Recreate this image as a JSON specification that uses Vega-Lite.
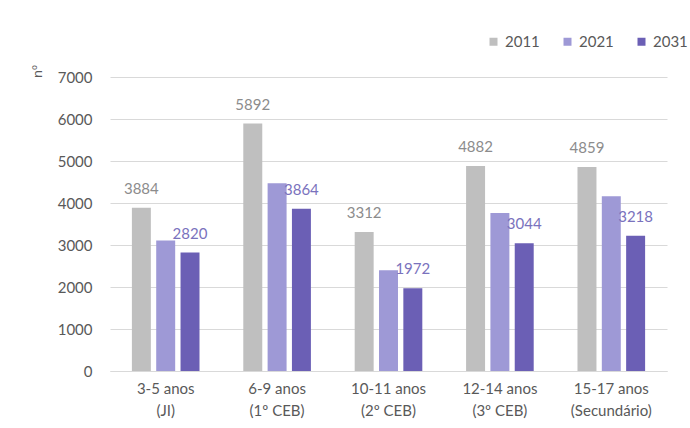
{
  "$schema": "https://vega.github.io/schema/vega-lite/v6.json",
  "autosize": {"type": "none"},
  "width": 557,
  "height": 294,
  "padding": {"left": 110, "top": 77, "right": 23, "bottom": 57},
  "background": "white",
  "config": {
    "font": "Lato",
    "view": {"stroke": null},
    "axis": {"labelFont": "Lato", "titleFont": "Lato", "labelColor": "#595959", "titleColor": "#595959", "labelFontSize": 15}
  },
  "data": {
    "values": [
      {"group": "3-5 anos (JI)", "year": "2011", "value": 3884},
      {"group": "3-5 anos (JI)", "year": "2021", "value": 3110},
      {"group": "3-5 anos (JI)", "year": "2031", "value": 2820},
      {"group": "6-9 anos (1º CEB)", "year": "2011", "value": 5892},
      {"group": "6-9 anos (1º CEB)", "year": "2021", "value": 4470},
      {"group": "6-9 anos (1º CEB)", "year": "2031", "value": 3864},
      {"group": "10-11 anos (2º CEB)", "year": "2011", "value": 3312},
      {"group": "10-11 anos (2º CEB)", "year": "2021", "value": 2400},
      {"group": "10-11 anos (2º CEB)", "year": "2031", "value": 1972},
      {"group": "12-14 anos (3º CEB)", "year": "2011", "value": 4882},
      {"group": "12-14 anos (3º CEB)", "year": "2021", "value": 3760},
      {"group": "12-14 anos (3º CEB)", "year": "2031", "value": 3044},
      {"group": "15-17 anos (Secundário)", "year": "2011", "value": 4859},
      {"group": "15-17 anos (Secundário)", "year": "2021", "value": 4160},
      {"group": "15-17 anos (Secundário)", "year": "2031", "value": 3218}
    ]
  },
  "encoding": {
    "x": {
      "field": "group", "type": "nominal", "sort": null,
      "scale": {"paddingInner": 0, "paddingOuter": 0},
      "axis": {
        "title": null, "labelAngle": 0, "ticks": false, "domainColor": "#d9d9d9",
        "labelPadding": 10, "labelLineHeight": 22, "labelBaseline": "top",
        "labelExpr": "[split(datum.label, ' (')[0], '(' + split(datum.label, ' (')[1]]"
      }
    },
    "xOffset": {"field": "year", "type": "nominal", "scale": {"paddingInner": 0.22, "paddingOuter": 0.9}},
    "y": {
      "field": "value", "type": "quantitative",
      "scale": {"domain": [0, 7000], "nice": false},
      "axis": {
        "title": "nº", "titleAngle": 270, "titleX": -73, "titleY": -6, "titleAlign": "center", "titleBaseline": "middle",
        "titleFontSize": 13, "titleFontWeight": "normal", "titleFont": "Open Sans",
        "values": [0, 1000, 2000, 3000, 4000, 5000, 6000, 7000], "labelOverlap": false,
        "domain": false, "ticks": false, "labelPadding": 18, "gridColor": "#d9d9d9", "format": "d"
      }
    }
  },
  "layer": [
    {
      "mark": {"type": "bar"},
      "encoding": {
        "color": {
          "field": "year", "type": "nominal",
          "scale": {"domain": ["2011", "2021", "2031"], "range": ["#bfbfbf", "#9e99d6", "#6b5fb5"]},
          "legend": {
            "title": null, "orient": "none", "direction": "horizontal", "legendX": 376, "legendY": -43,
            "symbolType": "square", "symbolSize": 64, "symbolStrokeWidth": 0, "labelFontSize": 15,
            "labelColor": "#595959", "labelFont": "Lato", "labelOffset": 4, "columnPadding": 20
          }
        }
      }
    },
    {
      "transform": [{"filter": "datum.year == '2011'"}],
      "mark": {"type": "text", "baseline": "alphabetic", "dy": -14, "fontSize": 15, "color": "#8c8c8c"},
      "encoding": {"text": {"field": "value", "type": "quantitative", "format": "d"}}
    },
    {
      "transform": [{"filter": "datum.year == '2031'"}],
      "mark": {"type": "text", "baseline": "alphabetic", "dy": -14, "fontSize": 15, "color": "#7a72bd"},
      "encoding": {"text": {"field": "value", "type": "quantitative", "format": "d"}}
    }
  ]
}
